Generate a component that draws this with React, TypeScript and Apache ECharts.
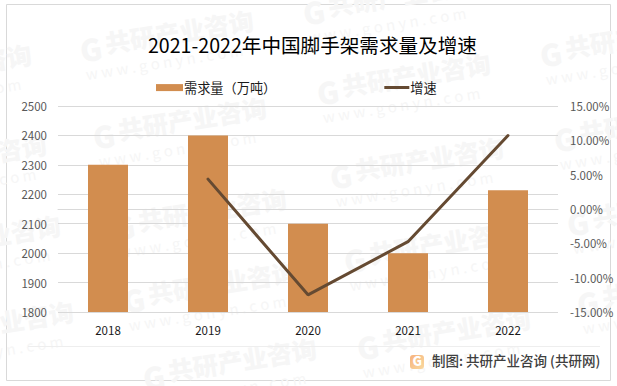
import React, { useEffect, useRef } from "react";
import * as echarts from "echarts";

const TITLE = "2021-2022年中国脚手架需求量及增速";
const categories = ["2018", "2019", "2020", "2021", "2022"];
const demand = [2300, 2400, 2100, 2000, 2214];
const growth: (number | null)[] = [null, 4.35, -12.5, -4.76, 10.7];
const BAR_NAME = "需求量（万吨）";
const LINE_NAME = "增速";
const SOURCE = "制图: 共研产业咨询 (共研网)";
const WM_TEXT = "共研产业咨询";
const WM_URL = "w w w . g o n y n . c o m";
const wmOrigins: [number, number][] = [
  [-142, 84], [-127, 174], [-113, 255], [-100, 341],
  [80, 50], [93, 137], [113, 228], [123, 301], [143, 378],
  [303, 13], [317, 93], [330, 177], [344, 261], [357, 348],
  [540, 55], [554, 140], [567, 224], [577, 304],
];

const FONT = '"Noto Sans CJK SC", "Noto Sans", sans-serif';
const ANGLE = (9 * Math.PI) / 180;
const WM = "#f6f6f6";
const LINE_ICON = "path://M0,0L100,0L100,0Z M0,8L100,8L100,20L0,20Z M0,28L100,28L100,28Z";

const watermarks = wmOrigins.map(([x, y]) => ({
  type: "group",
  x,
  y,
  rotation: ANGLE,
  silent: true,
  children: [
    { type: "text", z: -10, x: 0, y: -15, style: { text: "G", font: `900 30px ${FONT}`, fill: WM } },
    { type: "text", z: -10, x: 26, y: -16, style: { text: WM_TEXT, font: `900 25px ${FONT}`, fill: WM } },
    { type: "text", z: -10, x: 2, y: 17, style: { text: WM_URL, font: `400 15px ${FONT}`, fill: WM } },
  ],
}));

export default function App() {
  const ref = useRef<HTMLDivElement>(null);
  useEffect(() => {
    const chart = echarts.init(ref.current!, undefined, { renderer: "svg" });
    chart.setOption({
      animation: false,
      backgroundColor: "#ffffff",
      title: {
        text: TITLE,
        left: 143,
        top: 30,
        textStyle: { fontFamily: FONT, fontSize: 19.6, fontWeight: 400, color: "#000000" },
      },
      legend: {
        left: 151,
        top: 76,
        itemGap: 108,
        itemWidth: 27,
        itemHeight: 7,
        textStyle: { fontFamily: FONT, fontSize: 13.2, color: "#1a1a1a", padding: [0, 0, 0, -4] },
        data: [
          { name: BAR_NAME, icon: "rect" },
          {
            name: LINE_NAME,
            icon: LINE_ICON,
            itemStyle: { color: "#654a32", borderWidth: 0 },
            textStyle: { padding: [0, 0, 0, -5] },
          },
        ],
      },
      grid: { left: 58, right: 59, top: 106, bottom: 74 },
      xAxis: {
        type: "category",
        data: categories,
        axisTick: { show: false },
        axisLine: { lineStyle: { color: "#d9d9d9", width: 1 } },
        axisLabel: { color: "#1a1a1a", fontSize: 11.5, fontFamily: FONT, margin: 12 },
      },
      yAxis: [
        {
          type: "value",
          min: 1800,
          max: 2500,
          interval: 100,
          axisLine: { show: false },
          axisTick: { show: false },
          axisLabel: {
            color: "#595959",
            fontSize: 11.5,
            fontFamily: FONT,
            margin: 11,
            formatter: (v: number) => String(v),
          },
          splitLine: { lineStyle: { color: "#d9d9d9", width: 1 } },
        },
        {
          type: "value",
          min: -15,
          max: 15,
          interval: 5,
          position: "right",
          axisLine: { show: false },
          axisTick: { show: false },
          axisLabel: {
            color: "#595959",
            fontSize: 11.5,
            fontFamily: FONT,
            margin: 12,
            formatter: (v: number) => `${v.toFixed(2)}%`,
          },
          splitLine: { show: false },
        },
      ],
      series: [
        {
          name: BAR_NAME,
          type: "bar",
          data: demand,
          barWidth: 40,
          itemStyle: { color: "#d28d4f" },
        },
        {
          name: LINE_NAME,
          type: "line",
          yAxisIndex: 1,
          data: growth,
          symbol: "none",
          lineStyle: { color: "#654a32", width: 3, cap: "round" },
          itemStyle: { color: "#654a32" },
          z: 3,
        },
      ],
      graphic: [
        ...watermarks,
        {
          type: "rect",
          z: -20,
          shape: { x: 6.5, y: 4.5, width: 604, height: 376 },
          style: { fill: "none", stroke: "#d9d9d9", lineWidth: 1 },
          silent: true,
        },
        {
          type: "line",
          z: -5,
          shape: { x1: 28, y1: 346.5, x2: 600, y2: 346.5 },
          style: { stroke: "#eeeeee", lineWidth: 1 },
          silent: true,
        },
        {
          type: "rect",
          shape: { x: 410, y: 355, width: 14, height: 14, r: 3 },
          style: {
            fill: new echarts.graphic.LinearGradient(0, 0, 1, 1, [
              { offset: 0, color: "#f7b27c" },
              { offset: 1, color: "#f9d9a0" },
            ]),
          },
          silent: true,
        },
        {
          type: "text",
          x: 412.5,
          y: 354,
          style: { text: "G", font: `900 13px ${FONT}`, fill: "#ffffff" },
          silent: true,
        },
        {
          type: "text",
          x: 432,
          y: 353,
          style: { text: SOURCE, font: `500 13.5px ${FONT}`, fill: "#404040" },
          silent: true,
        },
      ],
    });
    return () => chart.dispose();
  }, []);
  return <div ref={ref} style={{ width: 617, height: 386, position: "absolute", left: 0, top: 0 }} />;
}
